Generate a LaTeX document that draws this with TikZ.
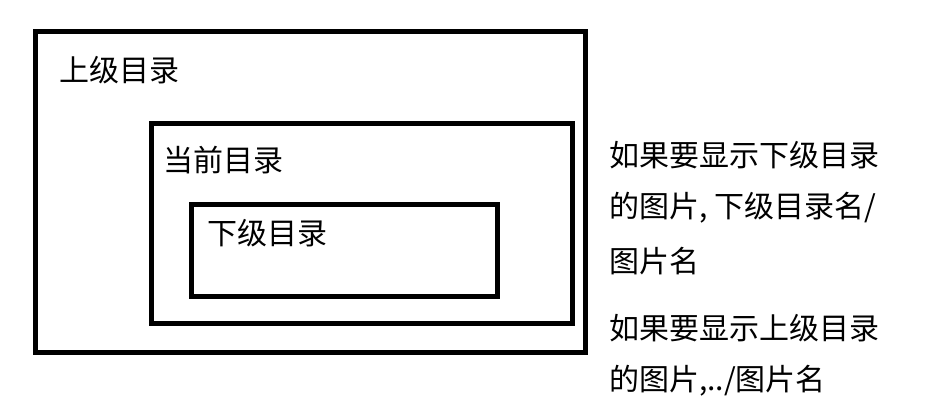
\documentclass[tikz,border=0pt]{standalone}
\usepackage{fontspec}
\setmainfont{Noto Sans CJK SC}
\begin{document}
\begin{tikzpicture}[x=1pt,y=-1pt,
  box/.style={draw=black,line width=5pt,fill=none},
  lbl/.style={anchor=west,inner sep=0pt,font=\fontsize{30}{36}\selectfont}]
\useasboundingbox (0,0) rectangle (927,420);
\draw[box] (35,32) rectangle (585,352);
\draw[box] (151,123) rectangle (572,323);
\draw[box] (191,204) rectangle (497,296);
\node[lbl] (a) at (59,70) {上级目录};
\node[lbl] (b) at (163,160) {当前目录};
\node[lbl] (c) at (207,233) {下级目录};
\node[lbl] (t1) at (609,155) {如果要显示下级目录};
\node[lbl] (t2) at (609,208) {的图片, 下级目录名/};
\node[lbl] (t3) at (609,261) {图片名};
\node[lbl] (t4) at (609,328) {如果要显示上级目录};
\node[lbl] (t5) at (609,381) {的图片,../图片名};
\end{tikzpicture}
\end{document}
